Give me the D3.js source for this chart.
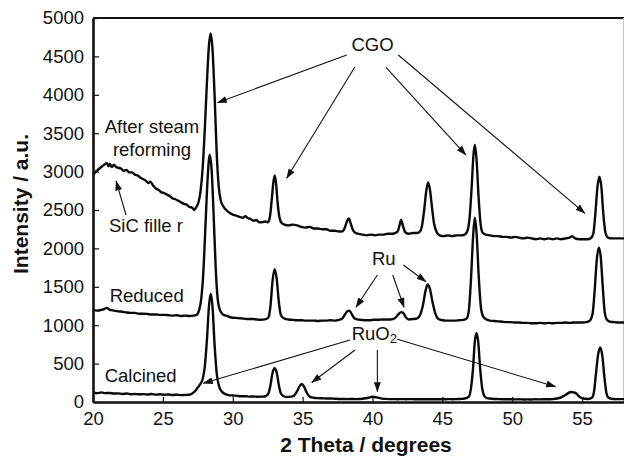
<!DOCTYPE html>
<html>
<head>
<meta charset="utf-8">
<script src="https://cdn.jsdelivr.net/npm/d3@7/dist/d3.min.js"></script>
<style>
  html, body { margin: 0; padding: 0; background: #fff; }
  svg { display: block; font-family: "Liberation Sans", Arial, Helvetica, sans-serif; }
</style>
</head>
<body>
<svg id="chart" width="624" height="458"></svg>
<script>
// XRD patterns: [2θ (degrees), intensity (a.u.)]
const afterSteam = [
  [20.0,2960],[20.2,3000],[20.4,3030],[20.6,3060],[20.8,3090],[21.0,3110],[21.1,3070],[21.2,3100],
  [21.35,3060],[21.5,3090],[21.65,3060],[21.8,3050],[22.0,3040],[22.2,3010],[22.4,3020],[22.6,2990],
  [22.8,2990],[23.0,2960],[23.2,2950],[23.4,2920],[23.6,2900],[23.8,2880],[23.95,2850],[24.1,2870],
  [24.3,2820],[24.5,2780],[24.7,2760],[24.9,2730],[25.1,2720],[25.3,2700],[25.5,2680],[25.7,2650],
  [25.9,2640],[26.1,2620],[26.3,2600],[26.5,2580],[26.7,2570],[26.9,2540],[27.1,2530],[27.25,2500],
  [27.4,2540],[27.55,2600],[27.7,2750],[27.85,3050],[28.0,3550],[28.15,4150],[28.3,4650],[28.42,4800],
  [28.55,4600],[28.7,4000],[28.85,3250],[29.0,2800],[29.15,2620],[29.35,2540],[29.6,2490],[29.8,2460],
  [30.0,2440],[30.2,2430],[30.5,2410],[30.75,2400],[30.9,2420],[31.05,2400],[31.3,2380],[31.5,2360],
  [31.7,2370],[31.9,2340],[32.1,2340],[32.3,2350],[32.5,2340],[32.65,2400],[32.8,2650],[32.9,2850],
  [33.0,2950],[33.1,2850],[33.2,2620],[33.35,2400],[33.5,2330],[33.7,2310],[34.0,2300],[34.3,2310],
  [34.6,2300],[34.9,2280],[35.2,2270],[35.5,2280],[35.8,2260],[36.1,2260],[36.4,2250],[36.7,2250],
  [37.0,2230],[37.3,2230],[37.6,2220],[37.8,2220],[38.0,2260],[38.15,2340],[38.3,2390],[38.45,2320],
  [38.6,2240],[38.8,2200],[39.0,2190],[39.3,2180],[39.6,2170],[39.9,2180],[40.2,2170],[40.5,2180],
  [40.8,2180],[41.1,2190],[41.4,2190],[41.6,2200],[41.8,2220],[41.95,2310],[42.05,2370],[42.2,2280],
  [42.35,2210],[42.6,2190],[42.9,2200],[43.2,2200],[43.4,2220],[43.55,2300],[43.7,2500],[43.85,2750],
  [43.98,2860],[44.1,2780],[44.25,2550],[44.4,2330],[44.6,2210],[44.8,2170],[45.1,2160],[45.4,2170],
  [45.7,2160],[46.0,2170],[46.3,2170],[46.6,2180],[46.8,2230],[46.95,2400],[47.1,2800],[47.22,3200],
  [47.33,3350],[47.45,3150],[47.6,2650],[47.75,2300],[47.9,2200],[48.1,2180],[48.4,2170],[48.7,2160],
  [49.0,2160],[49.3,2150],[49.6,2150],[49.9,2140],[50.2,2150],[50.5,2140],[50.8,2130],[51.1,2140],
  [51.4,2130],[51.7,2120],[52.0,2130],[52.3,2120],[52.6,2130],[52.9,2120],[53.2,2130],[53.5,2120],
  [53.8,2130],[54.1,2140],[54.3,2160],[54.5,2130],[54.8,2120],[55.1,2120],[55.4,2120],[55.6,2130],
  [55.8,2190],[55.95,2450],[56.1,2800],[56.24,2935],[56.38,2800],[56.52,2450],[56.68,2200],[56.85,2140],
  [57.1,2130],[57.4,2130],[57.7,2130],[58.0,2130]
];

const reduced = [
  [20.0,1200],[20.3,1190],[20.6,1200],[20.8,1210],[21.0,1225],[21.2,1200],[21.5,1190],[21.8,1180],
  [22.1,1175],[22.4,1165],[22.7,1160],[23.0,1160],[23.3,1150],[23.6,1150],[23.9,1145],[24.2,1140],
  [24.5,1140],[24.8,1135],[25.1,1135],[25.4,1130],[25.7,1125],[26.0,1130],[26.3,1120],[26.6,1125],
  [26.9,1120],[27.2,1125],[27.45,1140],[27.6,1200],[27.75,1350],[27.9,1700],[28.05,2300],[28.2,2900],
  [28.35,3216],[28.48,3050],[28.62,2500],[28.78,1750],[28.92,1350],[29.1,1190],[29.3,1140],[29.6,1120],
  [29.9,1100],[30.2,1095],[30.5,1090],[30.8,1085],[31.1,1080],[31.4,1080],[31.7,1075],[32.0,1070],
  [32.3,1075],[32.55,1100],[32.7,1250],[32.85,1580],[33.0,1730],[33.15,1600],[33.3,1300],[33.45,1130],
  [33.7,1085],[34.0,1075],[34.3,1070],[34.6,1065],[34.9,1065],[35.2,1060],[35.5,1060],[35.8,1060],
  [36.1,1055],[36.4,1060],[36.7,1060],[37.0,1065],[37.3,1060],[37.6,1070],[37.85,1090],[38.0,1130],
  [38.2,1180],[38.35,1190],[38.5,1150],[38.7,1090],[38.9,1075],[39.2,1070],[39.5,1065],[39.8,1065],
  [40.1,1070],[40.4,1070],[40.7,1075],[41.0,1075],[41.3,1075],[41.6,1090],[41.85,1140],[42.05,1170],
  [42.2,1160],[42.4,1100],[42.6,1075],[42.9,1080],[43.2,1090],[43.4,1130],[43.6,1250],[43.8,1450],
  [43.95,1530],[44.1,1480],[44.3,1300],[44.5,1150],[44.7,1085],[45.0,1065],[45.3,1060],[45.6,1060],
  [45.9,1060],[46.2,1065],[46.5,1070],[46.75,1090],[46.9,1200],[47.05,1600],[47.2,2150],[47.32,2400],
  [47.45,2200],[47.6,1650],[47.75,1250],[47.9,1120],[48.1,1080],[48.4,1060],[48.7,1055],[49.0,1050],
  [49.3,1045],[49.6,1040],[49.9,1040],[50.2,1035],[50.5,1035],[50.8,1030],[51.1,1030],[51.4,1025],
  [51.7,1025],[52.0,1030],[52.3,1025],[52.6,1030],[52.9,1025],[53.2,1030],[53.5,1030],[53.8,1035],
  [54.1,1030],[54.4,1035],[54.7,1035],[55.0,1035],[55.3,1040],[55.55,1060],[55.75,1150],[55.9,1450],
  [56.05,1850],[56.2,2010],[56.33,1900],[56.48,1500],[56.62,1170],[56.78,1070],[57.0,1045],[57.3,1040],
  [57.6,1035],[58.0,1035]
];

const calcined = [
  [20.0,120],[20.3,115],[20.6,125],[20.9,115],[21.2,118],[21.5,110],[21.8,112],[22.1,105],
  [22.4,110],[22.7,100],[23.0,105],[23.3,100],[23.6,102],[23.9,98],[24.2,104],[24.5,96],
  [24.8,100],[25.1,95],[25.4,98],[25.7,92],[26.0,95],[26.3,90],[26.6,92],[26.9,95],
  [27.1,110],[27.3,140],[27.5,190],[27.7,240],[27.85,300],[28.0,460],[28.15,800],[28.3,1250],
  [28.42,1406],[28.55,1250],[28.7,750],[28.85,380],[29.0,220],[29.2,140],[29.45,105],[29.7,90],
  [30.0,85],[30.3,80],[30.6,75],[30.9,75],[31.2,70],[31.5,72],[31.8,68],[32.1,70],
  [32.35,75],[32.55,110],[32.7,220],[32.85,380],[33.0,440],[33.15,380],[33.3,220],[33.45,110],
  [33.65,75],[33.9,65],[34.2,70],[34.4,85],[34.6,140],[34.8,210],[34.95,235],[35.1,200],
  [35.3,120],[35.5,70],[35.8,55],[36.1,50],[36.4,48],[36.7,45],[37.0,45],[37.3,42],
  [37.6,40],[37.9,40],[38.2,38],[38.5,40],[38.8,38],[39.1,40],[39.4,45],[39.7,55],
  [40.0,68],[40.3,60],[40.6,48],[40.9,40],[41.2,38],[41.5,38],[41.8,36],[42.1,38],
  [42.4,36],[42.7,38],[43.0,36],[43.3,35],[43.6,36],[43.9,35],[44.2,36],[44.5,35],
  [44.8,36],[45.1,35],[45.4,38],[45.7,36],[46.0,38],[46.3,40],[46.6,45],[46.9,70],
  [47.05,180],[47.2,450],[47.32,780],[47.45,895],[47.57,780],[47.7,450],[47.85,180],[48.0,80],
  [48.2,50],[48.4,45],[48.7,40],[49.0,38],[49.3,36],[49.6,35],[49.9,36],[50.2,34],
  [50.5,35],[50.8,33],[51.1,34],[51.4,33],[51.7,35],[52.0,34],[52.3,36],[52.6,35],
  [52.9,38],[53.2,45],[53.5,60],[53.8,90],[54.0,115],[54.2,130],[54.4,125],[54.6,110],
  [54.8,70],[55.0,50],[55.2,42],[55.45,40],[55.7,55],[55.85,130],[56.0,380],[56.15,620],
  [56.3,710],[56.45,600],[56.6,320],[56.75,110],[56.9,55],[57.1,42],[57.4,38],[57.7,38],
  [58.0,38]
];

const xTicks = [20, 25, 30, 35, 40, 45, 50, 55];
const yTicks = [0, 500, 1000, 1500, 2000, 2500, 3000, 3500, 4000, 4500, 5000];

// Text labels: [text, 2θ, intensity, anchor]
const seriesLabels = [
  ["After steam", 24.22, 3503, "middle"],
  ["reforming", 24.22, 3198, "middle"],
  ["SiC fille r", 23.79, 2214, "middle"],
  ["Reduced", 23.84, 1298, "middle"],
  ["Calcined", 23.41, 256, "middle"],
  ["CGO", 40.0, 4570, "middle"],
  ["Ru", 40.81, 1784, "middle"]
];

// Annotation arrows: [from 2θ, from intensity, to 2θ, to intensity]
const cgoArrows = [
  [38.16, 4518, 28.90, 3897],
  [38.75, 4366, 33.86, 2913],
  [40.97, 4358, 46.69, 3216],
  [41.85, 4518, 55.21, 2457]
];
const sicArrows = [[22.36, 2435, 21.65, 2878]];
const ruArrows = [
  [40.35, 1654, 38.82, 1233],
  [41.45, 1654, 42.26, 1233],
  [42.21, 1784, 43.83, 1566]
];
const ruo2Arrows = [
  [38.39, 807, 27.89, 243],
  [38.75, 677, 35.65, 254],
  [40.35, 677, 40.35, 134],
  [41.78, 816, 53.11, 199]
];
const ruo2Label = [38.51, 807];

const svg = d3.select("#chart");
const W = 624, H = 458;
const mLeft = 93, mRight = 624, mTop = 18, mBottom = 402;

const x = d3.scaleLinear().domain([20, 58]).range([mLeft, mRight]);
const y = d3.scaleLinear().domain([0, 5000]).range([mBottom, mTop]);

// arrowhead
svg.append("defs").append("marker")
  .attr("id", "arrowhead")
  .attr("viewBox", "0 0 10 7")
  .attr("refX", 9.5).attr("refY", 3.5)
  .attr("markerWidth", 10).attr("markerHeight", 7)
  .attr("markerUnits", "userSpaceOnUse")
  .attr("orient", "auto")
  .append("path").attr("d", "M0,0 L10,3.5 L0,7 Z").attr("fill", "#111");

// frame: top thick line, right thin grey edge
svg.append("line").attr("x1", mLeft).attr("x2", W).attr("y1", mTop).attr("y2", mTop)
  .attr("stroke", "#111").attr("stroke-width", 2.2);
svg.append("line").attr("x1", 623.5).attr("x2", 623.5).attr("y1", mTop).attr("y2", mBottom)
  .attr("stroke", "#c8c8c8").attr("stroke-width", 1);

// curves
const line = d3.line().x(d => x(d[0])).y(d => y(d[1])).curve(d3.curveMonotoneX);
const plot = svg.append("g");
[afterSteam, reduced, calcined].forEach(series => {
  plot.append("path").datum(series)
    .attr("d", line)
    .attr("fill", "none")
    .attr("stroke", "#0a0a0a")
    .attr("stroke-width", 2.4)
    .attr("stroke-linejoin", "round");
});

// axes with inward ticks
const yAxis = d3.axisLeft(y).tickValues(yTicks).tickFormat(d3.format("d"))
  .tickSize(-6).tickSizeOuter(0).tickPadding(9);
const xAxis = d3.axisBottom(x).tickValues(xTicks).tickFormat(d3.format("d"))
  .tickSize(-5).tickSizeOuter(0).tickPadding(10);

const gy = svg.append("g").attr("transform", `translate(${mLeft},0)`).call(yAxis);
const gx = svg.append("g").attr("transform", `translate(0,${mBottom})`).call(xAxis);
[gx, gy].forEach(g => {
  g.select(".domain").attr("stroke", "#111").attr("stroke-width", 2.6);
  g.selectAll(".tick line").attr("stroke", "#111").attr("stroke-width", 1.2);
  g.selectAll(".tick text").attr("fill", "#111")
    .style("font-size", "18.5px")
    .style("font-family", "'Liberation Sans', Arial, sans-serif");
});

// axis titles
svg.append("text")
  .attr("x", 366).attr("y", 452)
  .attr("text-anchor", "middle")
  .style("font-size", "21px").style("font-weight", "bold").attr("fill", "#111")
  .text("2 Theta / degrees");
svg.append("text")
  .attr("transform", "translate(28,204) rotate(-90)")
  .attr("text-anchor", "middle")
  .style("font-size", "21px").style("font-weight", "bold").attr("fill", "#111")
  .text("Intensity / a.u.");

// annotations
const ann = svg.append("g");
seriesLabels.forEach(([t, tx, ty, anchor]) => {
  ann.append("text").attr("x", x(tx)).attr("y", y(ty))
    .attr("text-anchor", anchor)
    .style("font-size", "18.5px").attr("fill", "#111")
    .text(t);
});
const ruo2 = ann.append("text").attr("x", x(ruo2Label[0])).attr("y", y(ruo2Label[1]))
  .style("font-size", "18.5px").attr("fill", "#111");
ruo2.append("tspan").text("RuO");
ruo2.append("tspan").attr("dy", 3).style("font-size", "13px").text("2");

[...cgoArrows, ...sicArrows, ...ruArrows, ...ruo2Arrows].forEach(a => {
  ann.append("line")
    .attr("x1", x(a[0])).attr("y1", y(a[1]))
    .attr("x2", x(a[2])).attr("y2", y(a[3]))
    .attr("stroke", "#111").attr("stroke-width", 1.1)
    .attr("marker-end", "url(#arrowhead)");
});
</script>
</body>
</html>
